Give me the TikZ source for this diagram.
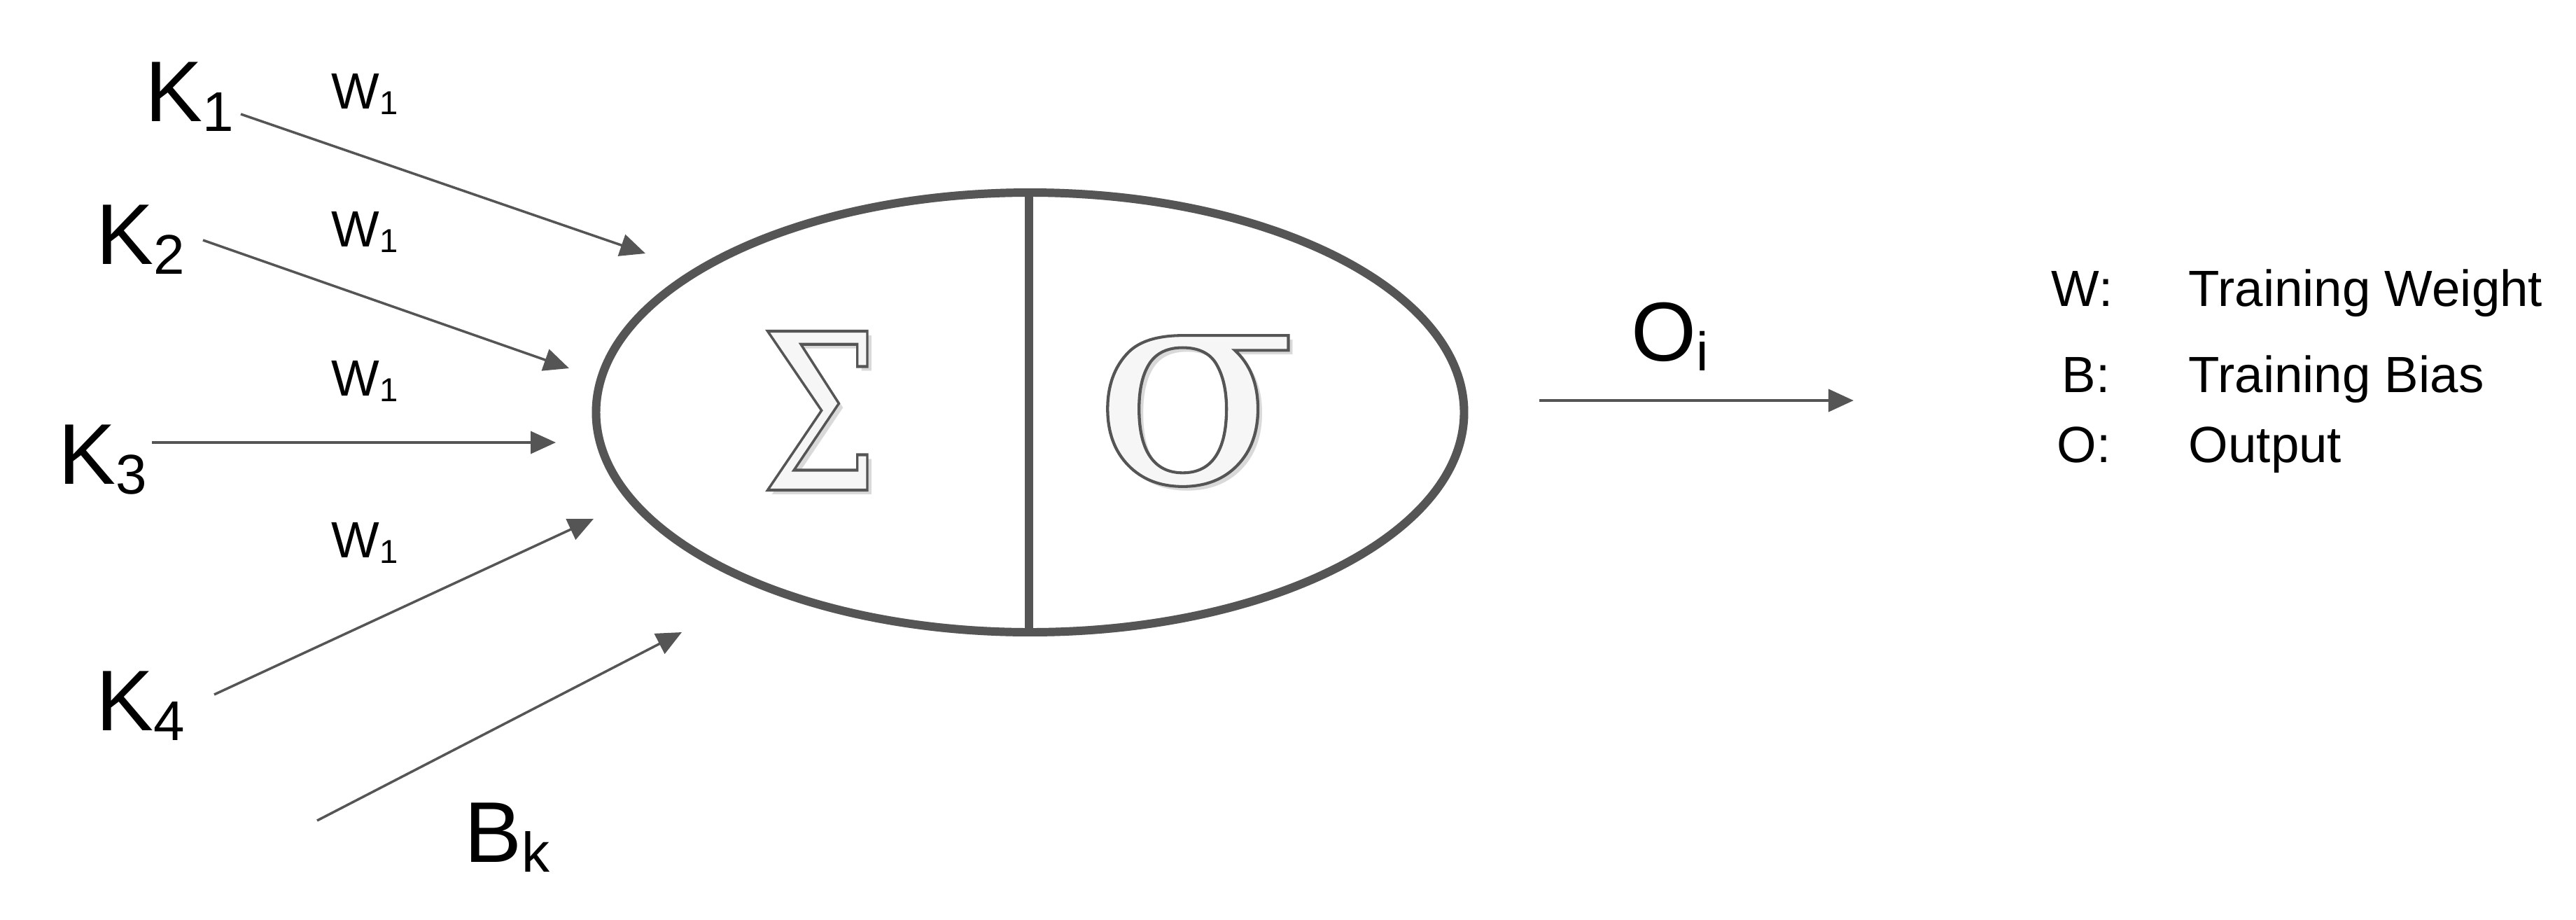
\documentclass[tikz,border=0pt]{standalone}
\usepackage{fontspec}
\setmainfont{Liberation Sans}
\newfontfamily\greekfont{DejaVu Serif}
\usetikzlibrary{arrows.meta}
\definecolor{linegray}{RGB}{85,85,85}
\newcommand\outlinedglyph[4]{% width, height, size, glyph
  \resizebox{#1}{#2}{\greekfont\fontsize{#3}{#3}\selectfont
    \special{pdf:literal direct q 2 Tr 1.3 w 0.333 0.333 0.333 RG 0.965 g}#4\special{pdf:literal direct Q}}%
}
\newcommand\lowidx[1]{\raisebox{-0.12em}{\scalebox{0.65}{#1}}}

\begin{document}
\begin{tikzpicture}[
    inlab/.style={anchor=base west,inner sep=0pt,font=\fontsize{35}{40}\selectfont},
    wlab/.style={anchor=base west,inner sep=0pt,font=\fontsize{20.7}{24}\selectfont},
    feed/.style={draw=linegray,line width=1pt,-{Triangle[length=3.6mm,width=3.2mm]}}]
  \useasboundingbox (0,0) rectangle (36.8,-13.13);

  % inputs and weights
  \node[inlab] (k1) at (2.07,-1.73) {K\lowidx{1}};
  \node[inlab] (k2) at (1.37,-3.77) {K\lowidx{2}};
  \node[inlab] (k3) at (0.83,-6.91) {K\lowidx{3}};
  \node[inlab] (k4) at (1.37,-10.43) {K\lowidx{4}};
  \node[inlab] (bk) at (6.63,-12.31) {B\lowidx{k}};

  \node[wlab] (w1) at (4.73,-1.55) {W\lowidx{1}};
  \node[wlab] (w2) at (4.73,-3.52) {W\lowidx{1}};
  \node[wlab] (w3) at (4.73,-5.65) {W\lowidx{1}};
  \node[wlab] (w4) at (4.73,-7.96) {W\lowidx{1}};

  \coordinate (s1) at (3.44,-1.63);  \coordinate (t1) at (9.22,-3.62);
  \coordinate (s2) at (2.90,-3.43);  \coordinate (t2) at (8.13,-5.26);
  \coordinate (s3) at (2.17,-6.32);  \coordinate (t3) at (7.94,-6.32);
  \coordinate (s4) at (3.06,-9.92);  \coordinate (t4) at (8.48,-7.41);
  \coordinate (s5) at (4.53,-11.72); \coordinate (t5) at (9.74,-9.03);
  \draw[feed] (s1) -- (t1);
  \draw[feed] (s2) -- (t2);
  \draw[feed] (s3) -- (t3);
  \draw[feed] (s4) -- (t4);
  \draw[feed] (s5) -- (t5);

  % neuron
  \coordinate (cell) at (14.715,-5.89);
  \draw[line width=3.4pt,gray!12,xshift=1.6mm,yshift=-1.6mm] (cell) ellipse[x radius=6.20,y radius=3.14];
  \draw[line width=3.4pt,gray!28,xshift=0.9mm,yshift=-0.9mm] (cell) ellipse[x radius=6.20,y radius=3.14];
  \draw[line width=3.4pt,linegray] (cell) ellipse[x radius=6.20,y radius=3.14];
  \draw[line width=3.6pt,linegray] (14.70,-2.75) -- (14.70,-9.03);

  \node[inner sep=0pt,text=gray!30] (sumshadow) at (11.77,-5.925) {\resizebox{1.68cm}{2.27cm}{\greekfont\fontsize{97}{97}\selectfont Σ}};
  \node[inner sep=0pt] (sum) at (11.71,-5.865) {\outlinedglyph{1.68cm}{2.27cm}{97}{Σ}};
  \node[inner sep=0pt,text=gray!30] (sigshadow) at (17.13,-5.93) {\resizebox{2.92cm}{2.10cm}{\greekfont\fontsize{130}{130}\selectfont σ}};
  \node[inner sep=0pt] (sig) at (17.07,-5.87) {\outlinedglyph{2.92cm}{2.10cm}{130}{σ}};

  % output
  \node[anchor=base west,inner sep=0pt,font=\fontsize{34}{40}\selectfont] (oi) at (23.30,-5.15) {O\lowidx{i}};
  \coordinate (out) at (21.99,-5.72);
  \coordinate (outend) at (26.48,-5.72);
  \draw[feed,line width=1.2pt] (out) -- (outend);

  % legend
  \node[wlab] (lw) at (29.30,-4.37) {W:};
  \node[wlab] (lwt) at (31.26,-4.37) {Training Weight};
  \node[wlab] (lb) at (29.45,-5.60) {B:};
  \node[wlab] (lbt) at (31.26,-5.60) {Training Bias};
  \node[wlab] (lo) at (29.38,-6.60) {O:};
  \node[wlab] (lot) at (31.26,-6.60) {Output};
\end{tikzpicture}
\end{document}
